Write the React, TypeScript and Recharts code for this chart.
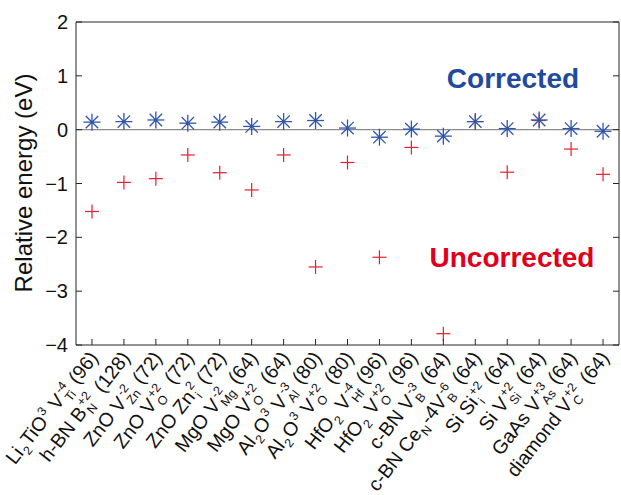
import { ScatterChart, Scatter, XAxis, YAxis, ReferenceLine, ReferenceDot } from 'recharts';

// defect systems, markup: _{sub} ^{sup}, "_{a}^{b}" is stacked
const SYSTEMS = [
  'Li_{2}TiO^{3} V_{Ti}^{-4} (96)',
  'h-BN B_{N}^{+2} (128)',
  'ZnO V_{Zn}^{-2} (72)',
  'ZnO V_{O}^{+2} (72)',
  'ZnO Zn_{i}^{2} (72)',
  'MgO V_{Mg}^{-2} (64)',
  'MgO V_{O}^{+2} (64)',
  'Al_{2}O^{3} V_{Al}^{-3} (80)',
  'Al_{2}O^{3} V_{O}^{+2} (80)',
  'HfO_{2} V_{Hf}^{-4} (96)',
  'HfO_{2} V_{O}^{+2} (96)',
  'c-BN V_{B}^{-3} (64)',
  'c-BN Ce_{N}-4V_{B}^{-6} (64)',
  'Si Si_{i}^{+2} (64)',
  'Si V_{Si}^{+2} (64)',
  'GaAs V_{As}^{+3} (64)',
  'diamond V_{C}^{+2} (64)',
];

const CORRECTED = [0.14, 0.15, 0.18, 0.12, 0.14, 0.06, 0.15, 0.17, 0.03, -0.14, 0.01, -0.12, 0.15, 0.02, 0.18, 0.02, -0.03];
const UNCORRECTED = [-1.52, -0.98, -0.91, -0.47, -0.8, -1.12, -0.47, -2.55, -0.61, -2.37, -0.33, -3.79, 0.15, -0.79, 0.17, -0.36, -0.83];

const Y_TICKS = [-4, -3, -2, -1, 0, 1, 2];
const X_TICKS = SYSTEMS.map((_, i) => i + 1);

const BLUE = '#2f56a8';
const RED = '#e5202e';
const FONT = '"Liberation Sans", Arial, Helvetica, sans-serif';

const correctedData = CORRECTED.map((v, i) => ({ x: i + 1, y: v }));
const uncorrectedData = UNCORRECTED.map((v, i) => ({ x: i + 1, y: v }));

const MAIN_FS = 19.5;
const SCRIPT_FS = 12.5;

function textWidth(s: string, fs: number) {
  let w = 0;
  for (const c of s) {
    if ('iIl'.includes(c)) w += 0.24;
    else if ('-r()t'.includes(c)) w += 0.34;
    else if ('MmW'.includes(c)) w += 0.84;
    else if ('+'.includes(c)) w += 0.58;
    else w += 0.56;
  }
  return w * fs;
}

function renderLabel(s: string) {
  const re = /_\{([^}]*)\}\^\{([^}]*)\}|_\{([^}]*)\}|\^\{([^}]*)\}|[^_^]+/g;
  const out: any[] = [];
  let shift = 0;
  let pendingDx = 0;
  let m: RegExpExecArray | null;
  let k = 0;
  const push = (text: string, target: number, fs: number, dx = 0) => {
    out.push(
      <tspan key={k++} dy={target - shift} dx={dx + pendingDx} fontSize={fs}>{text}</tspan>
    );
    pendingDx = 0;
    shift = target;
  };
  while ((m = re.exec(s))) {
    if (m[1] !== undefined) {
      const sub = m[1], sup = m[2];
      const ws = textWidth(sup, SCRIPT_FS), wb = textWidth(sub, SCRIPT_FS);
      push(sup, -8, SCRIPT_FS, 2);
      push(sub, 5, SCRIPT_FS, -ws);
      pendingDx = (ws > wb ? ws - wb : 0) + 1;
    } else if (m[3] !== undefined) {
      push(m[3], 5, SCRIPT_FS, 1);
      pendingDx = 1;
    } else if (m[4] !== undefined) {
      push(m[4], -8, SCRIPT_FS, 1);
      pendingDx = 1;
    } else {
      push(m[0], 0, MAIN_FS);
    }
  }
  return out;
}

function BottomTick(props: any) {
  const { x, y, payload } = props;
  const label = SYSTEMS[payload.value - 1];
  return (
    <g>
      <line x1={x} x2={x} y1={y} y2={y - 6} stroke="#262626" />
      <g transform={`translate(${x + 7},${y + 13}) rotate(-52)`}>
        <text textAnchor="end" fontFamily={FONT} fill="#111">{renderLabel(label)}</text>
      </g>
    </g>
  );
}

function TopTick(props: any) {
  const { x, y } = props;
  return <line x1={x} x2={x} y1={y} y2={y + 6} stroke="#262626" />;
}

function LeftTick(props: any) {
  const { x, y, payload } = props;
  const v = payload.value;
  return (
    <g>
      <line x1={x} x2={x + 6} y1={y} y2={y} stroke="#262626" />
      <text x={x - 8} y={y} dy={7} textAnchor="end" fontSize={20} fontFamily={FONT} fill="#111">
        {v < 0 ? '\u2212' + Math.abs(v) : String(v)}
      </text>
    </g>
  );
}

function RightTick(props: any) {
  const { x, y } = props;
  return <line x1={x - 6} x2={x} y1={y} y2={y} stroke="#262626" />;
}

function AxisTitle() {
  return (
    <text transform="translate(32,183) rotate(-90)" textAnchor="middle" fontSize={24} fontFamily={FONT} fill="#111">
      Relative energy (eV)
    </text>
  );
}

function Asterisk(props: any) {
  const { cx, cy } = props;
  const r = 8.5, d = 6.2;
  return (
    <g stroke={BLUE} strokeWidth={1.3}>
      <line x1={cx - r} x2={cx + r} y1={cy} y2={cy} />
      <line x1={cx} x2={cx} y1={cy - r} y2={cy + r} />
      <line x1={cx - d} x2={cx + d} y1={cy - d} y2={cy + d} />
      <line x1={cx - d} x2={cx + d} y1={cy + d} y2={cy - d} />
      <circle cx={cx} cy={cy} r={1.6} fill={BLUE} stroke="none" />
    </g>
  );
}

function Plus(props: any) {
  const { cx, cy } = props;
  const r = 7;
  return (
    <g stroke={RED} strokeWidth={1.2}>
      <line x1={cx - r} x2={cx + r} y1={cy} y2={cy} />
      <line x1={cx} x2={cx} y1={cy - r} y2={cy + r} />
    </g>
  );
}

export default function App() {
  return (
    <div style={{ position: 'absolute', left: 0, top: 0, background: '#fff' }}>
      <ScatterChart width={621} height={495} margin={{ top: 21, right: 1, bottom: 0, left: 16 }}>
        <XAxis xAxisId="b" type="number" dataKey="x" domain={[0.5, 17.5]} ticks={X_TICKS} interval={0}
          allowDataOverflow height={150} tickSize={0} tickMargin={0} tickLine={false}
          axisLine={{ stroke: '#262626' }} tick={(p: any) => <BottomTick {...p} />} />
        <XAxis xAxisId="t" orientation="top" type="number" domain={[0.5, 17.5]} ticks={X_TICKS} interval={0}
          allowDataOverflow height={1} tickSize={0} tickMargin={0} tickLine={false}
          axisLine={{ stroke: '#262626' }} tick={(p: any) => <TopTick {...p} />} />
        <YAxis yAxisId="l" type="number" dataKey="y" domain={[-4, 2]} ticks={Y_TICKS} interval={0}
          allowDataOverflow width={60} tickSize={0} tickMargin={0} tickLine={false}
          axisLine={{ stroke: '#262626' }} tick={(p: any) => <LeftTick {...p} />} label={<AxisTitle />} />
        <YAxis yAxisId="r" orientation="right" type="number" domain={[-4, 2]} ticks={Y_TICKS} interval={0}
          allowDataOverflow width={1} tickSize={0} tickMargin={0} tickLine={false}
          axisLine={{ stroke: '#262626' }} tick={(p: any) => <RightTick {...p} />} />
        <ReferenceLine xAxisId="b" yAxisId="l" y={0} stroke="#8c8c8c" strokeWidth={1.2} />
        <Scatter xAxisId="b" yAxisId="l" data={uncorrectedData} shape={(p: any) => <Plus {...p} />} isAnimationActive={false} />
        <Scatter xAxisId="b" yAxisId="l" data={correctedData} shape={(p: any) => <Asterisk {...p} />} isAnimationActive={false} />
        <ReferenceDot xAxisId="b" yAxisId="l" x={14.18} y={0.96} r={0} stroke="none"
          label={{ value: 'Corrected', position: 'center', fill: '#1f4a9e', fontSize: 28, fontWeight: 700, fontFamily: FONT }} />
        <ReferenceDot xAxisId="b" yAxisId="l" x={14.15} y={-2.36} r={0} stroke="none"
          label={{ value: 'Uncorrected', position: 'center', fill: '#e0001b', fontSize: 28, fontWeight: 700, fontFamily: FONT }} />
      </ScatterChart>
    </div>
  );
}
